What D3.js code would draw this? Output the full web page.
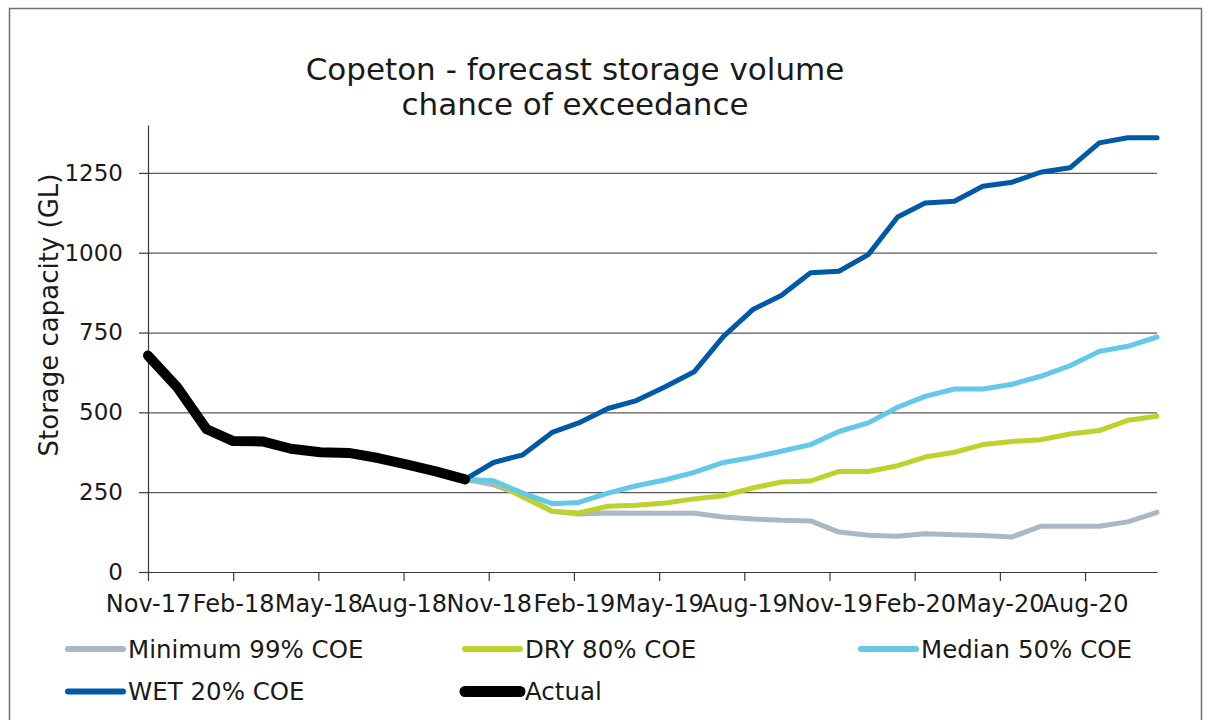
<!DOCTYPE html>
<html>
<head>
<meta charset="utf-8">
<script src="https://cdn.jsdelivr.net/npm/d3@7"></script>
<style>
  body { margin: 0; background: #fff; }
  text { font-family: "DejaVu Sans", sans-serif; fill: #1a1a1a; }
</style>
</head>
<body>
<div id="chart"></div>
<script>
// months (values sit at the end of each month)
var actualMonths = ["Nov-17","Dec-17","Jan-18","Feb-18","Mar-18","Apr-18","May-18","Jun-18","Jul-18","Aug-18","Sep-18","Oct-18"];
var forecastMonths = ["Oct-18","Nov-18","Dec-18","Jan-19","Feb-19","Mar-19","Apr-19","May-19","Jun-19","Jul-19","Aug-19","Sep-19",
  "Oct-19","Nov-19","Dec-19","Jan-20","Feb-20","Mar-20","Apr-20","May-20","Jun-20","Jul-20","Aug-20","Sep-20","Oct-20"];

// storage volume, GL
var actual = [678, 578, 447, 410, 409, 386, 375, 373, 357, 336, 315, 290];
var minimum99 = [290, 273, 240, 190, 182, 185, 184, 184, 184, 172, 166, 162, 160, 125, 115, 112, 120, 117, 114, 110, 143, 143, 143, 157, 187];
var dry80 = [290, 284, 235, 190, 185, 206, 209, 216, 229, 239, 263, 282, 285, 315, 315, 333, 360, 375, 399, 409, 414, 432, 443, 475, 488];
var median50 = [290, 286, 247, 214, 218, 247, 270, 289, 312, 343, 359, 378, 399, 440, 467, 516, 550, 573, 573, 588, 613, 646, 691, 707, 736];
var wet20 = [290, 343, 367, 437, 467, 512, 537, 581, 627, 738, 822, 866, 937, 942, 994, 1112, 1156, 1161, 1208, 1221, 1252, 1266, 1344, 1360, 1360];

var yTicks = [0, 250, 500, 750, 1000, 1250];
var tickStepDays = 90;

var width = 1210, height = 720;
var margin = { left: 148, right: 53, top: 125, bottom: 148 };

var parseMonth = d3.timeParse("%b-%y");
function monthEnd(s) {
  return d3.timeDay.offset(d3.timeMonth.offset(parseMonth(s), 1), -1);
}

var series = [
  { name: "Minimum 99% COE", color: "#a9b8c2", w: 5, months: forecastMonths, values: minimum99 },
  { name: "DRY 80% COE", color: "#bfd22c", w: 5, months: forecastMonths, values: dry80 },
  { name: "Median 50% COE", color: "#64c8e8", w: 5, months: forecastMonths, values: median50 },
  { name: "WET 20% COE", color: "#0059a8", w: 5, months: forecastMonths, values: wet20 },
  { name: "Actual", color: "#000000", w: 10, months: actualMonths, values: actual }
];

var start = monthEnd(actualMonths[0]);
var end = monthEnd(forecastMonths[forecastMonths.length - 1]);

var x = d3.scaleTime()
  .domain([start, end])
  .range([margin.left, width - margin.right]);

var y = d3.scaleLinear()
  .domain([0, 1400])
  .range([height - margin.bottom, margin.top]);

var svg = d3.select("#chart").append("svg")
  .attr("width", width)
  .attr("height", height);

svg.append("rect")
  .attr("x", 9.5).attr("y", 8.5)
  .attr("width", 1192).attr("height", 740)
  .attr("fill", "none")
  .attr("stroke", "#6f6f6f")
  .attr("stroke-width", 1.5);

// title
svg.append("text")
  .attr("x", 575).attr("y", 80)
  .attr("text-anchor", "middle")
  .style("font-size", "31px")
  .text("Copeton - forecast storage volume");
svg.append("text")
  .attr("x", 575).attr("y", 115)
  .attr("text-anchor", "middle")
  .style("font-size", "31px")
  .text("chance of exceedance");

// gridlines
svg.append("g")
  .attr("class", "grid")
  .attr("transform", "translate(" + margin.left + ",0)")
  .call(d3.axisLeft(y).tickValues(yTicks.slice(1)).tickSize(-(width - margin.left - margin.right)).tickFormat(""))
  .call(function(g) { g.select(".domain").remove(); })
  .selectAll("line")
  .attr("stroke", "#5a5a5a")
  .attr("stroke-width", 1.2);

// y axis
var yAxis = svg.append("g")
  .attr("transform", "translate(" + margin.left + ",0)")
  .call(d3.axisLeft(y).tickValues(yTicks).tickFormat(d3.format("d")).tickSize(9).tickPadding(16).tickSizeOuter(0));
yAxis.select(".domain").attr("stroke", "#3a3a3a").attr("stroke-width", 1.2);
yAxis.selectAll(".tick line").attr("stroke", "#3a3a3a").attr("stroke-width", 1.2);
yAxis.selectAll(".tick text").style("font-size", "23px").style("font-family", "DejaVu Sans").attr("fill", "#1a1a1a");

// x axis
var tickDates = d3.range(0, 12).map(function(i) { return d3.timeDay.offset(start, i * tickStepDays); });
var xAxis = svg.append("g")
  .attr("transform", "translate(0," + y(0) + ")")
  .call(d3.axisBottom(x).tickValues(tickDates).tickFormat(d3.timeFormat("%b-%y")).tickSize(9).tickPadding(14).tickSizeOuter(0));
xAxis.select(".domain").attr("stroke", "#3a3a3a").attr("stroke-width", 1.2);
xAxis.selectAll(".tick line").attr("stroke", "#3a3a3a").attr("stroke-width", 1.2);
xAxis.selectAll(".tick text").style("font-size", "24px").style("font-family", "DejaVu Sans").attr("fill", "#1a1a1a");

// y title
svg.append("text")
  .attr("transform", "translate(58,315) rotate(-90)")
  .attr("text-anchor", "middle")
  .style("font-size", "26px")
  .text("Storage capacity (GL)");

// lines
var line = d3.line()
  .x(function(d) { return x(d.date); })
  .y(function(d) { return y(d.value); });

series.forEach(function(s) {
  var pts = s.values.map(function(v, i) { return { date: monthEnd(s.months[i]), value: v }; });
  svg.append("path")
    .datum(pts)
    .attr("d", line)
    .attr("fill", "none")
    .attr("stroke", s.color)
    .attr("stroke-width", s.w)
    .attr("stroke-linejoin", "round")
    .attr("stroke-linecap", "round");
});

// legend
var legendPos = [[68, 649], [465, 649], [861, 649], [68, 691.5], [465, 691.5]];
series.forEach(function(s, i) {
  var p = legendPos[i];
  var g = svg.append("g").attr("transform", "translate(" + p[0] + "," + p[1] + ")");
  g.append("line")
    .attr("x1", 0).attr("x2", 55)
    .attr("stroke", s.color)
    .attr("stroke-width", s.w === 10 ? 11 : 6)
    .attr("stroke-linecap", "round");
  g.append("text")
    .attr("x", 60).attr("y", 8.5)
    .style("font-size", "24.5px")
    .text(s.name);
});
</script>
</body>
</html>
